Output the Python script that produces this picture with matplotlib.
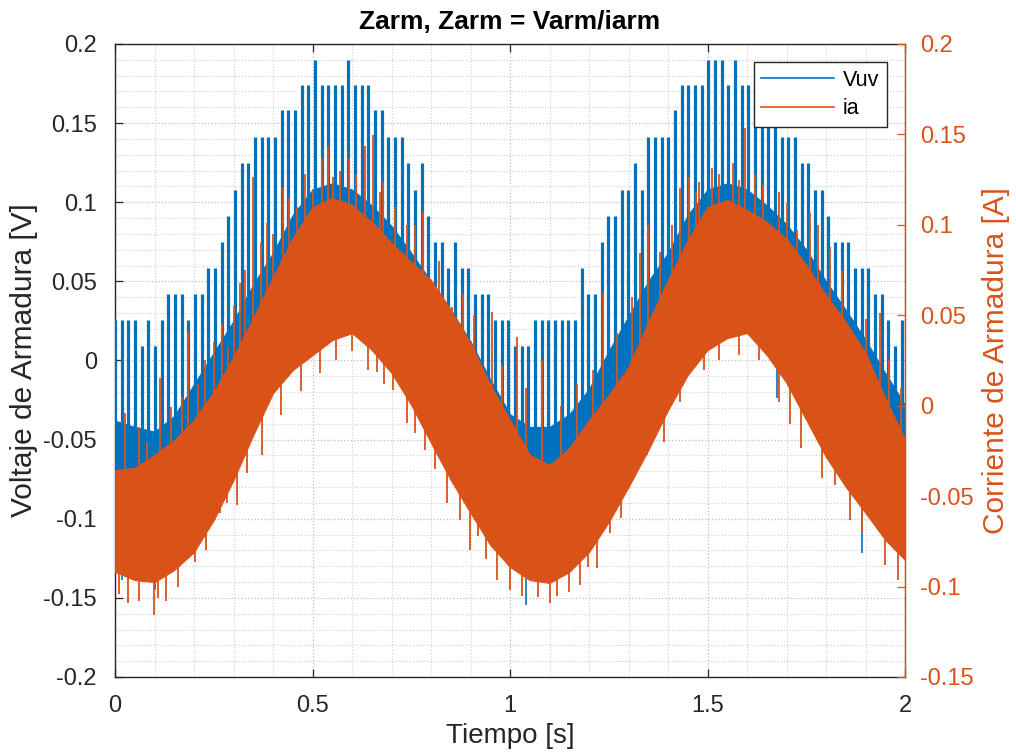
import numpy as np
import matplotlib
matplotlib.use("Agg")
import matplotlib.pyplot as plt
from matplotlib.lines import Line2D
from matplotlib.path import Path

plt.rcParams["font.family"] = ["Liberation Sans", "DejaVu Sans"]

BLUE = "#0072BD"
ORANGE = "#D95319"

# envelope sample times [s], every 0.05 s
t_env = [0.00, 0.05, 0.10, 0.15, 0.20, 0.25, 0.30, 0.35, 0.40, 0.45,
         0.50, 0.55, 0.60, 0.65, 0.70, 0.75, 0.80, 0.85, 0.90, 0.95,
         1.00, 1.05, 1.10, 1.15, 1.20, 1.25, 1.30, 1.35, 1.40, 1.45,
         1.50, 1.55, 1.60, 1.65, 1.70, 1.75, 1.80, 1.85, 1.90, 1.95, 2.00]

# Vuv dense band (without the tall pulses) [V]
vuv_hi = [-0.038, -0.042, -0.045, -0.035, -0.015, 0.005, 0.025, 0.048, 0.068, 0.092,
          0.108, 0.112, 0.108, 0.098, 0.085, 0.068, 0.050, 0.032, 0.012, -0.012,
          -0.034, -0.042, -0.042, -0.034, -0.018, 0.006, 0.028, 0.050, 0.068, 0.092,
          0.108, 0.112, 0.108, 0.098, 0.086, 0.070, 0.050, 0.032, 0.013, -0.008, -0.028]
vuv_lo = [-0.1318, -0.1368, -0.1381, -0.1305, -0.1191, -0.0989, -0.0736, -0.0452, -0.0186, -0.0041,
          0.0054, 0.0149, 0.0193, 0.0085, -0.0060, -0.0262, -0.0502, -0.0736, -0.0945, -0.1147,
          -0.1286, -0.1368, -0.1387, -0.1318, -0.1191, -0.1002, -0.0780, -0.0547, -0.0294, -0.0073,
          0.0085, 0.0161, 0.0193, 0.0054, -0.0123, -0.0357, -0.0591, -0.0780, -0.0945, -0.1115, -0.1242]

# Vuv pulse tops, one per pulse (~59 Hz) [V]
vuv_pulse_top = [
    0.0256, 0.0256, 0.0256, 0.0256, 0.009, 0.0256, 0.009, 0.0256, 0.042, 0.042,
    0.042, 0.0256, 0.042, 0.042, 0.0586, 0.0586, 0.075, 0.0915, 0.108, 0.125,
    0.125, 0.141, 0.141, 0.141, 0.141, 0.158, 0.158, 0.158, 0.174, 0.174,
    0.19, 0.174, 0.174, 0.174, 0.174, 0.19, 0.174, 0.174, 0.174, 0.158,
    0.158, 0.141, 0.141, 0.141, 0.125, 0.108, 0.125, 0.0915, 0.075, 0.075,
    0.0586, 0.075, 0.0586, 0.0586, 0.042, 0.042, 0.042, 0.0256, 0.0256, 0.0256,
    0.009, 0.009, 0.009, 0.0256, 0.0256, 0.0256, 0.0256, 0.0256, 0.0256, 0.0256,
    0.0586, 0.042, 0.042, 0.075, 0.0915, 0.0915, 0.108, 0.108, 0.125, 0.108,
    0.141, 0.141, 0.141, 0.141, 0.158, 0.174, 0.174, 0.174, 0.174, 0.19,
    0.19, 0.19, 0.174, 0.19, 0.174, 0.174, 0.174, 0.174, 0.158, 0.158,
    0.141, 0.141, 0.141, 0.125, 0.125, 0.108, 0.108, 0.0915, 0.075, 0.075,
    0.075, 0.0586, 0.0586, 0.0586, 0.042, 0.042, 0.0256, 0.009, 0.0256,
]
pulse_period = 1 / 59.25

# a few Vuv excursions below the band [s], [V]
vuv_dip_t = [0.018, 0.10, 1.041, 1.676, 1.891]
vuv_dip_v = [-0.139, -0.145, -0.1545, -0.0237, -0.1216]

# ia dense band [A]
ia_hi = [-0.0355, -0.0344, -0.0272, -0.0190, -0.0079, 0.0076, 0.0269, 0.0485, 0.0712, 0.0927,
         0.1099, 0.1148, 0.1110, 0.1016, 0.0900, 0.0795, 0.0695, 0.0529, 0.0347, 0.0115,
         -0.0079, -0.0272, -0.0328, -0.0234, -0.0079, 0.0059, 0.0214, 0.0463, 0.0695, 0.0916,
         0.1099, 0.1137, 0.1082, 0.1016, 0.0922, 0.0778, 0.0612, 0.0463, 0.0292, 0.0043, -0.0190]
ia_lo = [-0.0919, -0.0964, -0.0975, -0.0908, -0.0809, -0.0632, -0.0411, -0.0162, 0.0070, 0.0197,
         0.0280, 0.0363, 0.0402, 0.0308, 0.0181, 0.0004, -0.0206, -0.0411, -0.0593, -0.0770,
         -0.0892, -0.0964, -0.0980, -0.0919, -0.0809, -0.0643, -0.0449, -0.0245, -0.0024, 0.0170,
         0.0308, 0.0374, 0.0402, 0.0280, 0.0126, -0.0079, -0.0284, -0.0449, -0.0593, -0.0742, -0.0853]

# ia spikes above the band
ia_up_t = [0.025, 0.06, 0.08, 0.114, 0.142, 0.17, 0.185, 0.21, 0.228, 0.25,
           0.27, 0.286, 0.30, 0.316, 0.33, 0.349, 0.37, 0.385, 0.40, 0.425,
           0.44, 0.461, 0.48, 0.50, 0.524, 0.539, 0.552, 0.57, 0.592, 0.61,
           0.633, 0.653, 0.67, 0.678, 0.71, 0.74, 0.76, 0.780, 0.82, 0.853,
           0.88, 0.91, 0.954, 0.98, 1.018, 1.04, 1.081, 1.13, 1.17, 1.21,
           1.235, 1.27, 1.31, 1.329, 1.349, 1.38, 1.41, 1.430, 1.453, 1.47,
           1.478, 1.511, 1.53, 1.565, 1.58, 1.595, 1.62, 1.641, 1.68, 1.70,
           1.727, 1.759, 1.78, 1.810, 1.84, 1.878, 1.90, 1.937, 1.96, 1.99]
ia_up_v = [-0.004, -0.012, -0.020, 0.0153, -0.0007, 0.005, 0.0408, 0.012, 0.0253, 0.035,
           0.045, 0.0325, 0.055, 0.0679, 0.075, 0.1265, 0.09, 0.101, 0.095, 0.121,
           0.115, 0.1099, 0.128, 0.12, 0.137, 0.1436, 0.1265, 0.13, 0.137, 0.128,
           0.1436, 0.1497, 0.118, 0.1237, 0.11, 0.10, 0.10, 0.1071, 0.08, 0.0546,
           0.062, 0.05, 0.0518, 0.022, 0.038, 0.01, 0.0253, 0.0, 0.012, 0.02,
           0.0623, 0.04, 0.06, 0.0844, 0.0999, 0.085, 0.10, 0.1204, 0.1265, 0.118,
           0.1237, 0.1314, 0.128, 0.1342, 0.125, 0.1536, 0.128, 0.122, 0.118, 0.112,
           0.0972, 0.1066, 0.10, 0.0878, 0.075, 0.0325, 0.048, 0.0513, 0.025, 0.01]

# ia spikes below the band
ia_dn_t = [0.01, 0.033, 0.06, 0.099, 0.109, 0.13, 0.16, 0.203, 0.23, 0.266,
           0.284, 0.31, 0.334, 0.372, 0.42, 0.47, 0.52, 0.56, 0.60, 0.64,
           0.663, 0.68, 0.704, 0.739, 0.76, 0.785, 0.81, 0.840, 0.873, 0.899,
           0.92, 0.94, 0.967, 1.0, 1.03, 1.071, 1.101, 1.12, 1.15, 1.177,
           1.197, 1.22, 1.253, 1.28, 1.304, 1.347, 1.39, 1.43, 1.49, 1.53,
           1.58, 1.63, 1.68, 1.71, 1.737, 1.79, 1.823, 1.861, 1.89, 1.95, 1.982]
ia_dn_v = [-0.104, -0.109, -0.108, -0.1157, -0.1063, -0.108, -0.10, -0.0864, -0.08, -0.0593,
           -0.0538, -0.055, -0.0372, -0.0272, -0.005, 0.008, 0.018, 0.025, 0.03, 0.02,
           0.0186, 0.012, 0.0087, -0.0096, -0.015, -0.0245, -0.035, -0.0538, -0.0632, -0.0798,
           -0.072, -0.085, -0.0964, -0.1019, -0.105, -0.1058, -0.1091, -0.105, -0.103, -0.0991,
           -0.0892, -0.09, -0.0704, -0.062, -0.0422, -0.0272, -0.02, 0.002, 0.02, 0.025,
           0.028, 0.025, 0.002, -0.01, -0.0234, -0.04, -0.0438, -0.0632, -0.07, -0.088, -0.0964]


def band_path(x, lo, hi):
    xs = np.r_[x, x[::-1]]
    ys = np.r_[lo, hi[::-1]]
    verts = np.column_stack([xs, ys])
    return Path(np.vstack([verts, verts[:1]]), closed=True)


fig = plt.figure(figsize=(10.16, 7.56), dpi=100)
ax = fig.add_axes([0.1132, 0.1045, 0.7776, 0.8373])
ax2 = ax.twinx()

t_env_a = np.array(t_env)
top_edge = np.full(len(t_env), 0.25)
bottom_edge = np.full(len(t_env), -0.25)
t_pulse = np.arange(len(vuv_pulse_top)) * pulse_period

# --- Vuv (left axis)
ax.fill_between(t_env, vuv_lo, vuv_hi, color=BLUE, lw=0.8, zorder=3)
pulses = ax.vlines(t_pulse, -0.2, vuv_pulse_top, color=BLUE, lw=2.3, zorder=3)
pulses.set_clip_path(band_path(t_env_a, np.array(vuv_lo), top_edge), ax.transData)
dips = ax.vlines(vuv_dip_t, vuv_dip_v, 0.2, color=BLUE, lw=1.2, zorder=3)
dips.set_clip_path(band_path(t_env_a, bottom_edge, np.array(vuv_hi)), ax.transData)

# --- ia (right axis)
ax2.fill_between(t_env, ia_lo, ia_hi, color=ORANGE, lw=0.8, zorder=3)
ups = ax2.vlines(ia_up_t, -0.15, ia_up_v, color=ORANGE, lw=1.3, zorder=3)
ups.set_clip_path(band_path(t_env_a, np.array(ia_lo), top_edge), ax2.transData)
dns = ax2.vlines(ia_dn_t, ia_dn_v, 0.2, color=ORANGE, lw=1.3, zorder=3)
dns.set_clip_path(band_path(t_env_a, bottom_edge, np.array(ia_hi)), ax2.transData)

# axes limits / ticks
ax.set_xlim(0, 2)
ax.set_ylim(-0.2, 0.2)
ax2.set_ylim(-0.15, 0.2)

ax.set_xticks([0, 0.5, 1, 1.5, 2])
ax.set_xticklabels(["0", "0.5", "1", "1.5", "2"])
ax.set_xticks(np.arange(0, 2.01, 0.1), minor=True)

ax.set_yticks([-0.2, -0.15, -0.1, -0.05, 0, 0.05, 0.1, 0.15, 0.2])
ax.set_yticklabels(["-0.2", "-0.15", "-0.1", "-0.05", "0", "0.05", "0.1", "0.15", "0.2"])
ax.set_yticks(np.arange(-0.2, 0.201, 0.01), minor=True)

ax2.set_yticks([-0.15, -0.1, -0.05, 0, 0.05, 0.1, 0.15, 0.2])
ax2.set_yticklabels(["-0.15", "-0.1", "-0.05", "0", "0.05", "0.1", "0.15", "0.2"])

ax.grid(True, which="major", linestyle=":", color="#bdbdbd", lw=0.9)
ax.grid(True, which="minor", linestyle=":", color="#cfcfcf", lw=0.8)
ax.set_axisbelow(True)

ax.tick_params(which="major", direction="in", length=6, width=0.9, colors="#262626",
               labelsize=17, top=True, right=False, pad=13)
ax.tick_params(which="minor", length=0, top=False)
ax2.tick_params(which="major", direction="in", length=6, width=0.9, colors=ORANGE,
                labelsize=17, pad=11)
ax2.tick_params(which="minor", length=0)

for s in ["left", "top", "bottom"]:
    ax.spines[s].set_color("#262626")
    ax.spines[s].set_linewidth(1.0)
ax2.spines["right"].set_color(ORANGE)
ax2.spines["right"].set_linewidth(1.0)
for s in ["left", "top", "bottom"]:
    ax2.spines[s].set_visible(False)

ax.set_xlabel("Tiempo [s]", fontsize=20, color="#262626", labelpad=4)
ax.set_ylabel("Voltaje de Armadura [V]", fontsize=21.5, color="#262626", labelpad=4)
ax2.set_ylabel("Corriente de Armadura [A]", fontsize=21.5, color=ORANGE, labelpad=6)
ax.set_title("Zarm, Zarm = Varm/iarm", fontsize=19, fontweight="bold", pad=11)

handles = [Line2D([], [], color=BLUE, lw=1.2), Line2D([], [], color=ORANGE, lw=1.2)]
leg = ax2.legend(handles, ["Vuv", "ia"], loc="upper right", bbox_to_anchor=(0.977, 0.9716),
                 borderaxespad=0, fontsize=15.5, handlelength=3.4, handletextpad=0.4,
                 labelspacing=0.35, borderpad=0.35, fancybox=False, framealpha=1)
leg.get_frame().set_edgecolor("#262626")
leg.get_frame().set_linewidth(1.0)
leg.set_zorder(10)

fig.savefig("out.png", dpi=100)
